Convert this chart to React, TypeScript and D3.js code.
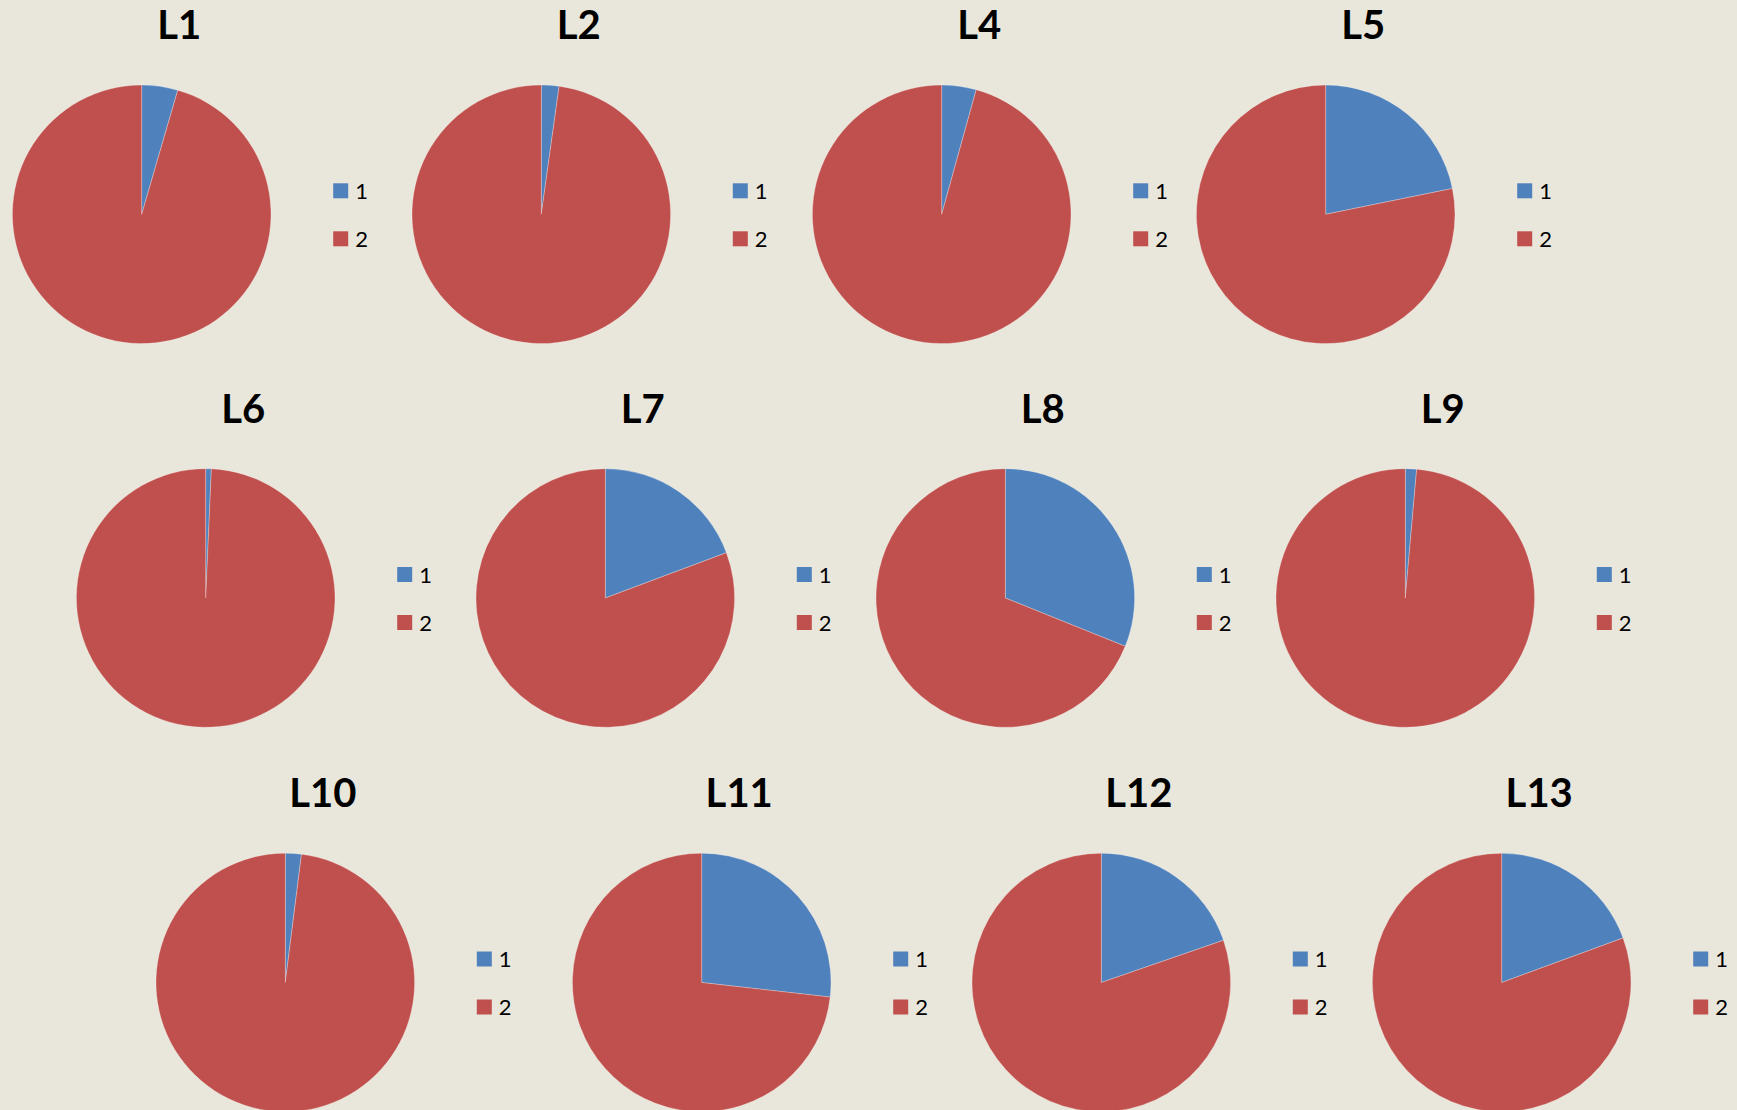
import React, { useEffect, useRef } from "react";
import * as d3 from "d3";

// chart titles, in reading order
const titles = ["L1", "L2", "L4", "L5", "L6", "L7", "L8", "L9", "L10", "L11", "L12", "L13"];
// share of category "1" (blue) and "2" (red), in percent
const series1 = [4.5, 2.2, 4.3, 21.8, 0.7, 19.3, 31.1, 1.4, 2.0, 26.8, 19.7, 19.4];
const series2 = [95.5, 97.8, 95.7, 78.2, 99.3, 80.7, 68.9, 98.6, 98.0, 73.2, 80.3, 80.6];
const legendLabels = ["1", "2"];

// layout: pie centres, row by row
const rowY = [214.3, 598, 982.5];
const rowX = [
  [141.7, 541.3, 941.7, 1325.7],
  [205.7, 605.3, 1005.3, 1405.3],
  [285.3, 701.7, 1101.3, 1501.7],
];

export default function App() {
  const ref = useRef<SVGSVGElement>(null);
  const width = 1737;
  const height = 1110;
  const radius = 129.3;

  useEffect(() => {
    const svg = d3.select(ref.current);
    svg.selectAll("*").remove();

    const color = d3.scaleOrdinal<string, string>().domain(legendLabels).range(["#4F81BD", "#C0504D"]);

    svg.append("rect").attr("width", width).attr("height", height).attr("fill", "#E9E7DB");

    const pie = d3
      .pie<{ name: string; value: number }>()
      .sort(null)
      .value((d) => d.value);
    const arcGenerator = d3.arc<d3.PieArcDatum<{ name: string; value: number }>>().innerRadius(0).outerRadius(radius);

    titles.forEach((title, i) => {
      const row = Math.floor(i / 4);
      const col = i % 4;
      const cx = rowX[row][col];
      const cy = rowY[row];
      const g = svg.append("g").attr("transform", `translate(${cx}, ${cy})`);

      const data = [
        { name: legendLabels[0], value: series1[i] },
        { name: legendLabels[1], value: series2[i] },
      ];

      // slices
      g.selectAll("path")
        .data(pie(data))
        .enter()
        .append("path")
        .attr("d", arcGenerator)
        .attr("fill", (d) => color(d.data.name))
        .attr("stroke", "rgba(255,255,255,0.35)")
        .attr("stroke-width", 0.8);

      // title
      g.append("text")
        .attr("x", 37.5)
        .attr("y", -175.3)
        .attr("text-anchor", "middle")
        .style("font-family", "Lato, 'Open Sans', sans-serif")
        .style("font-weight", "bold")
        .style("font-size", "40px")
        .attr("fill", "#000")
        .text(title);

      // legend
      const legend = g
        .selectAll("g.legend")
        .data(legendLabels)
        .enter()
        .append("g")
        .attr("class", "legend")
        .attr("transform", (d, k) => `translate(191.5, ${-31 + k * 48})`);
      legend.append("rect").attr("width", 15).attr("height", 15).attr("fill", (d) => color(d));
      legend
        .append("text")
        .attr("x", 22)
        .attr("y", 15.5)
        .style("font-family", "Lato, 'Open Sans', sans-serif")
        .style("font-size", "22px")
        .attr("fill", "#000")
        .text((d) => d);
    });
  }, []);

  return (
    <svg
      ref={ref}
      width={width}
      height={height}
      style={{ position: "absolute", left: 0, top: 0, display: "block" }}
    />
  );
}
